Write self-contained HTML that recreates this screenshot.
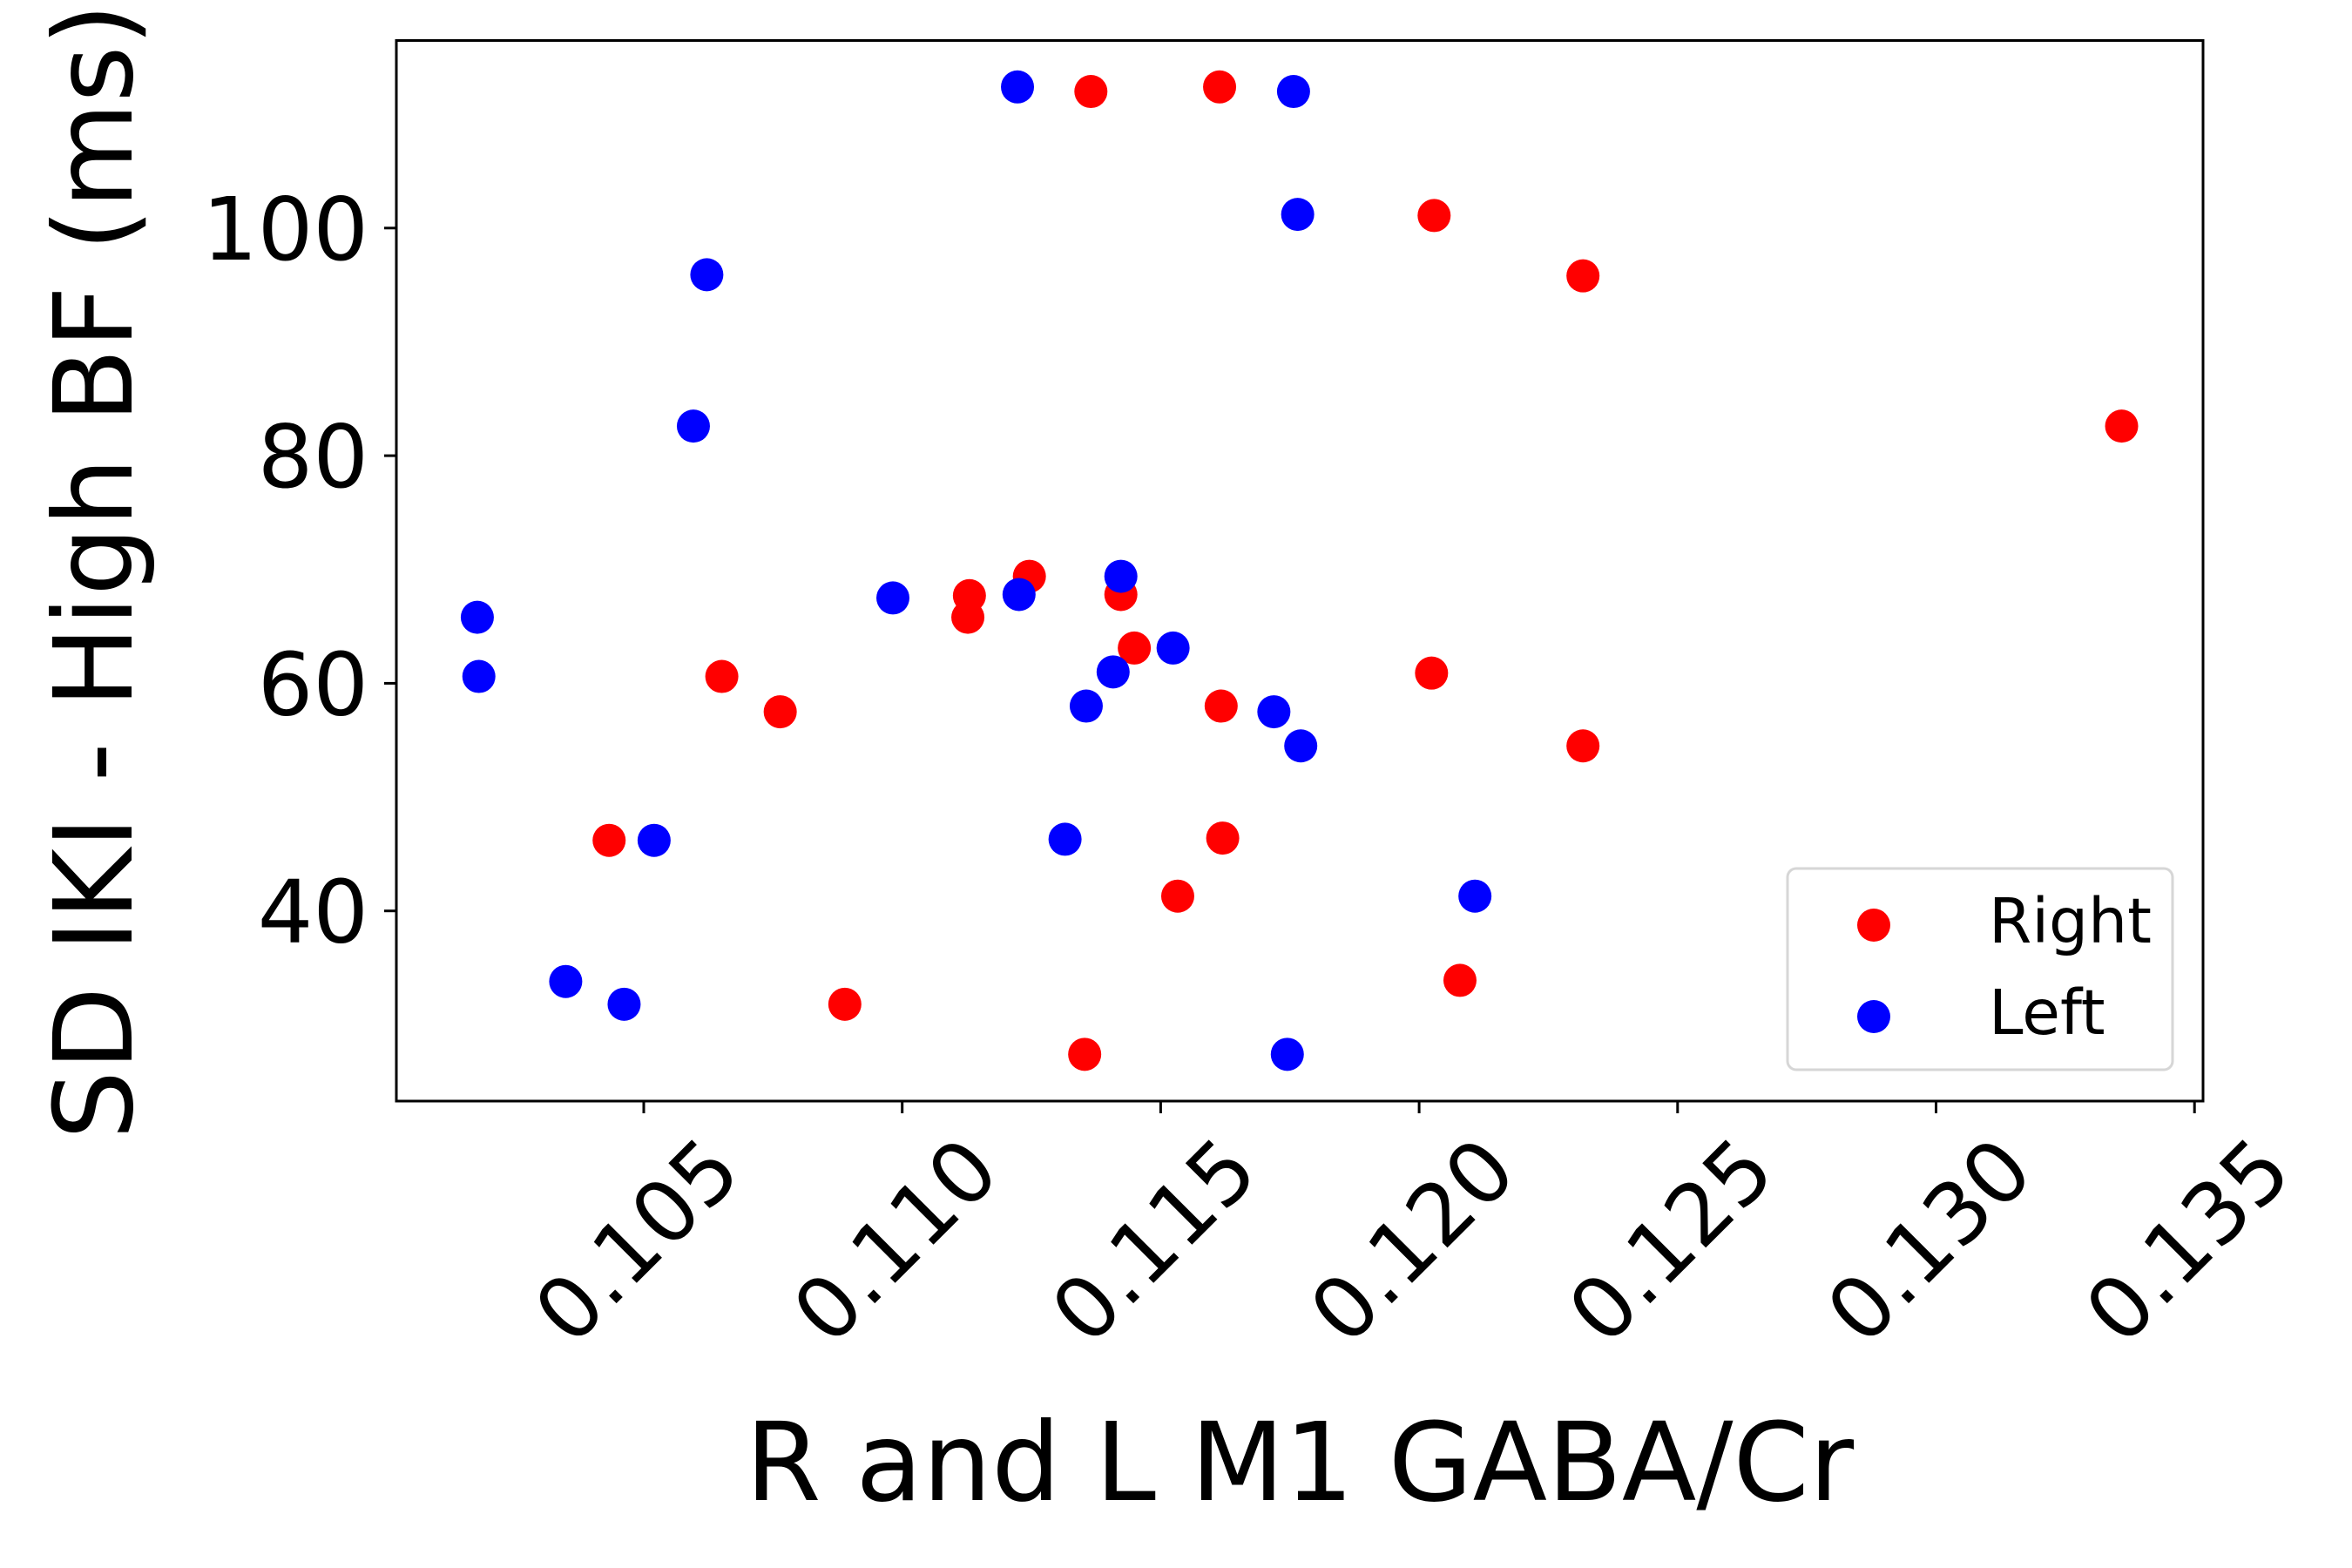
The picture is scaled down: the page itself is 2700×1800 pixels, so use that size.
<!DOCTYPE html>
<html><head><meta charset="utf-8"><style>
html,body{margin:0;padding:0;background:#fff;}
svg{display:block;font-family:"DejaVu Sans","Liberation Sans",sans-serif;}
</style></head><body>
<svg id="chart" width="2700" height="1800" viewBox="0 0 2700 1800">
<rect x="0" y="0" width="2700" height="1800" fill="#fff"/>
<g id="marks"></g>
<rect x="455" y="46.5" width="2074" height="1217.5" fill="none" stroke="#000" stroke-width="3"/>
<g id="axes"></g>
<text x="1492" y="1722" font-size="125" text-anchor="middle">R and L M1 GABA/Cr</text>
<text transform="translate(151,656) rotate(-90)" font-size="125" text-anchor="middle">SD IKI - High BF (ms)</text>
<g>
<rect x="2052" y="997" width="442" height="231" rx="10" fill="#fff" stroke="#d6d6d6" stroke-width="3"/>
<circle cx="2151" cy="1062" r="19" fill="#ff0000"/>
<text x="2283" y="1082" font-size="71">Right</text>
<circle cx="2151" cy="1167" r="19" fill="#0000ff"/>
<text x="2283" y="1187" font-size="71">Left</text>
</g>
</svg>
<script>
const rightX=[0.11365,0.11614,0.12029,0.12317,0.13359,0.11246,0.1113,0.11127,0.11423,0.11449,0.10651,0.10764,0.12024,0.11617,0.12317,0.10433,0.1162,0.11533,0.12079,0.10889,0.11353];
const rightY=[112.0,112.4,101.1,95.8,82.6,69.4,67.7,65.8,67.8,63.1,60.6,57.5,60.9,58.0,54.5,46.2,46.4,41.3,33.9,31.8,27.4];
const leftX=[0.11223,0.11757,0.11765,0.10622,0.10596,0.10178,0.10181,0.10982,0.11226,0.11423,0.11524,0.11408,0.11356,0.11719,0.11771,0.1052,0.11315,0.12108,0.10349,0.10462,0.11745];
const leftY=[112.4,112.0,101.2,95.9,82.6,65.8,60.6,67.5,67.8,69.4,63.1,61.0,58.0,57.5,54.5,46.2,46.3,41.3,33.8,31.8,27.4];
const xTicks=[0.105,0.110,0.115,0.120,0.125,0.130,0.135];
const xTickLabels=["0.105","0.110","0.115","0.120","0.125","0.130","0.135"];
const yTicks=[40,60,80,100];
const yTickLabels=["40","60","80","100"];

const NS="http://www.w3.org/2000/svg";
function xs(v){return 739+(v-0.105)/0.005*296.7;}
function ys(v){return 261.8+(100-v)/20*261.3;}
const marks=document.getElementById('marks');
const axes=document.getElementById('axes');
function dot(x,y,color,name){
  const c=document.createElementNS(NS,'circle');
  c.setAttribute('cx',xs(x));c.setAttribute('cy',ys(y));c.setAttribute('r',19);c.setAttribute('fill',color);
  
  
  marks.appendChild(c);
}
for(let i=0;i<rightX.length;i++){dot(rightX[i],rightY[i],'#ff0000','point-right');}
for(let i=0;i<leftX.length;i++){dot(leftX[i],leftY[i],'#0000ff','point-left');}
xTicks.forEach((t,i)=>{
  const x=xs(t);
  const l=document.createElementNS(NS,'line');
  l.setAttribute('x1',x);l.setAttribute('x2',x);l.setAttribute('y1',1264);l.setAttribute('y2',1278);
  l.setAttribute('stroke','#000');l.setAttribute('stroke-width',3);
  
  
  axes.appendChild(l);
  const tx=document.createElementNS(NS,'text');
  tx.setAttribute('transform','translate('+(x-7)+',1425) rotate(-45)');
  tx.setAttribute('text-anchor','middle');tx.setAttribute('dominant-baseline','central');
  tx.setAttribute('font-size',98);
  tx.textContent=xTickLabels[i];
  
  
  axes.appendChild(tx);
});
yTicks.forEach((t,i)=>{
  const y=ys(t);
  const l=document.createElementNS(NS,'line');
  l.setAttribute('x1',441);l.setAttribute('x2',455);l.setAttribute('y1',y);l.setAttribute('y2',y);
  l.setAttribute('stroke','#000');l.setAttribute('stroke-width',3);
  
  
  axes.appendChild(l);
  const tx=document.createElementNS(NS,'text');
  tx.setAttribute('x',423);tx.setAttribute('y',y+36);
  tx.setAttribute('text-anchor','end');tx.setAttribute('font-size',100);
  tx.textContent=yTickLabels[i];
  
  
  axes.appendChild(tx);
});
</script>
</body></html>
